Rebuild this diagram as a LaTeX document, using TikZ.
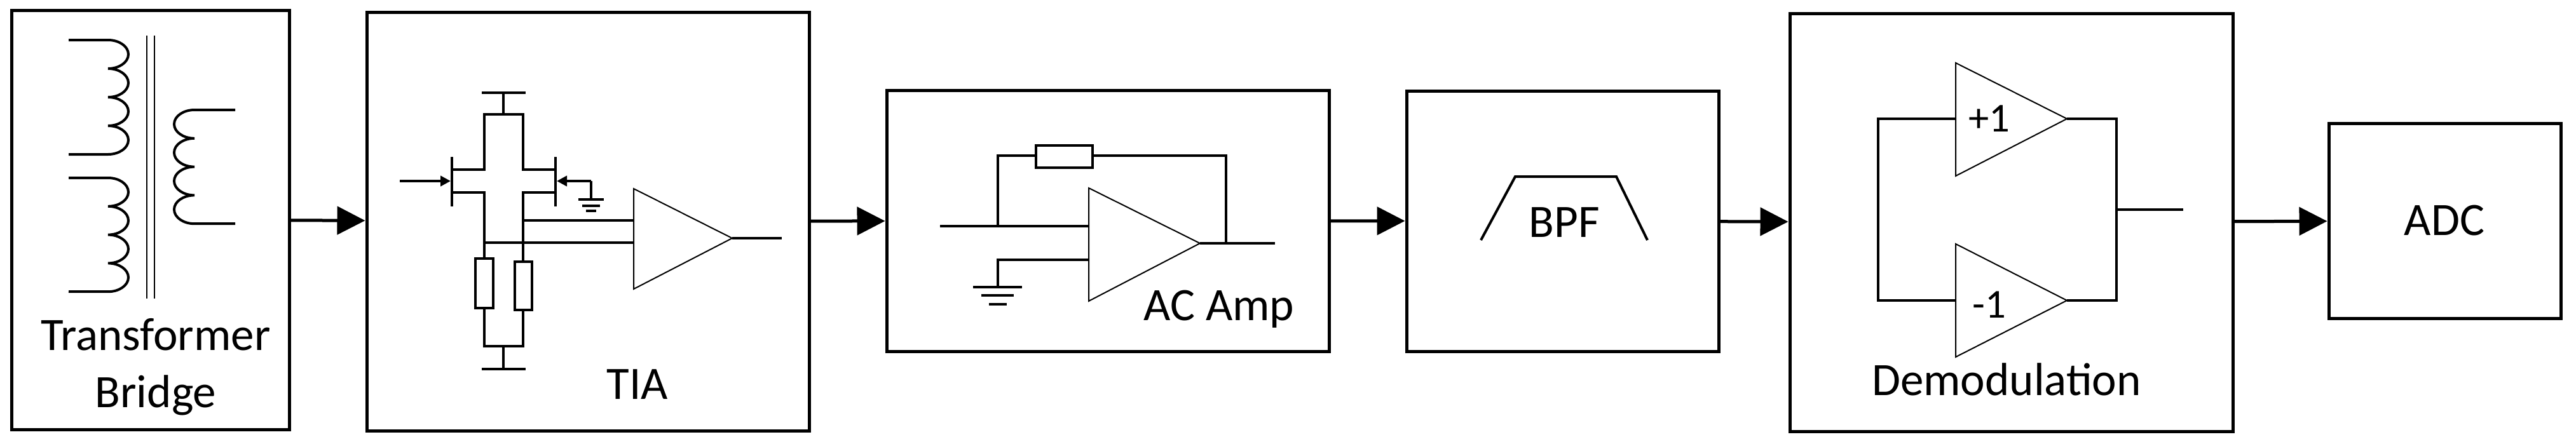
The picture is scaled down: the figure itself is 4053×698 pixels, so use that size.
\documentclass[tikz,border=0pt]{standalone}
\usepackage{fontspec}
\setmainfont{Carlito}
\usetikzlibrary{arrows.meta}

\begin{document}
\begin{tikzpicture}[x=0.25mm, y=-0.25mm,
    blk/.style={draw, line width=1.25mm, minimum width=#1, inner sep=0pt},
    wire/.style={line width=1mm},
    thin/.style={line width=0.5mm},
    flow/.style={line width=1.25mm, -{Triangle[length=11mm,width=11mm]}},
    lbl/.style={font=\fontsize{52}{64}\selectfont, align=center},
    gain/.style={font=\fontsize{46}{52}\selectfont}]
    \useasboundingbox (0,0) rectangle (4053,698);

    % Blocks
    \node (tb) [blk=109mm, minimum height=165mm] at (237,346) {};
    \node (tia) [blk=174mm, minimum height=164.75mm] at (925,348.5) {};
    \node (amp) [blk=174mm, minimum height=102.75mm] at (1743,347.5) {};
    \node (bpf) [blk=122.75mm, minimum height=102.5mm] at (2458.5,348) {};
    \node (demod) [blk=174.25mm, minimum height=164.5mm] at (3164.5,350) {};
    \node (adc) [blk=91.25mm, minimum height=76.75mm] at (3846.5,347.5) {};

    % Labels
    \node[lbl] (tbtext) at (245,578) {Transformer\\Bridge};
    \node[lbl] (tiatext) at (1003,605) {TIA};
    \node[lbl] (amptext) at (1918,487) {AC Amp};
    \node[lbl] (bpftext) at (2461,350) {BPF};
    \node[lbl] (demodtext) at (3157,597) {Demodulation};
    \node[lbl] (adctext) at (3846,347) {ADC};

    % Transformer
    \draw[wire] (108,63) -- (170,63)
        \foreach \i in {1,...,4} { arc[start angle=90, end angle=-90, x radius=8mm, y radius=5.625mm] } -- (108,243);
    \draw[wire] (108,280) -- (170,280)
        \foreach \i in {1,...,4} { arc[start angle=90, end angle=-90, x radius=8mm, y radius=5.6mm] } -- (108,459);
    \draw[wire] (370,173) -- (306,173)
        \foreach \i in {1,...,4} { arc[start angle=90, end angle=270, x radius=8mm, y radius=5.6mm] } -- (370,352);
    \draw[thin] (231,56) -- (231,470) (243,56) -- (243,470);

    % TIA circuit
    \draw[wire] (758,146) -- (827,146) (792,146) -- (792,180);
    \draw[wire] (711,267) -- (762,267) -- (762,180) -- (823,180) -- (823,267) -- (874,267);
    \draw[wire] (711,303) -- (762,303) -- (762,545) -- (823,545) -- (823,303) -- (874,303);
    \draw[wire] (711,247) -- (711,325) (874,247) -- (874,325);
    \draw[wire, -{Triangle[length=4mm,width=4mm]}] (629,285) -- (709,285);
    \draw[wire, -{Triangle[length=4mm,width=4mm]}] (930,285) -- (876,285);
    \draw[wire] (930,285) -- (930,314);
    \draw[wire] (910,314) -- (950,314) (916,324) -- (944,324) (922,332) -- (938,332);
    \draw[wire, fill=white] (748,407) rectangle (776,485) (810,412) rectangle (837,488);
    \draw[wire] (792,545) -- (792,581) (758,581) -- (827,581);
    \draw[wire] (823,347) -- (997,347) (762,382) -- (997,382);
    \draw[thin] (997,297) -- (1152,375) -- (997,455) -- cycle;
    \draw[wire] (1152,375) -- (1230,375);

    % AC amplifier
    \draw[thin] (1713,296) -- (1888,383) -- (1713,474) -- cycle;
    \draw[wire] (1479,356) -- (1713,356) (1888,383) -- (2006,383);
    \draw[wire] (1570,356) -- (1570,245) -- (1929,245) -- (1929,383);
    \draw[wire, fill=white] (1630,229) rectangle (1719,264);
    \draw[wire] (1713,409) -- (1570,409) -- (1570,452);
    \draw[wire] (1531,452) -- (1608,452) (1544,465) -- (1595,465) (1556,479) -- (1584,479);

    % Band pass shape
    \draw[wire] (2330,378) -- (2384,278) -- (2543,278) -- (2592,378);

    % Demodulation
    \draw[thin] (3077,99) -- (3252,187) -- (3077,277) -- cycle;
    \draw[thin] (3077,384) -- (3252,473) -- (3077,562) -- cycle;
    \node[gain] (plus) at (3130,187) {+1};
    \node[gain] (minus) at (3130,480) {-1};
    \draw[wire] (3077,187) -- (2955,187) -- (2955,473) -- (3077,473);
    \draw[wire] (3252,187) -- (3330,187) -- (3330,473) -- (3252,473);
    \draw[wire] (3330,330) -- (3435,330);

    % Flow
    \draw[flow] (tb) -- (tia);
    \draw[flow] (tia) -- (amp);
    \draw[flow] (amp) -- (bpf);
    \draw[flow] (bpf) -- (demod);
    \draw[flow] (demod) -- (adc);
\end{tikzpicture}
\end{document}
